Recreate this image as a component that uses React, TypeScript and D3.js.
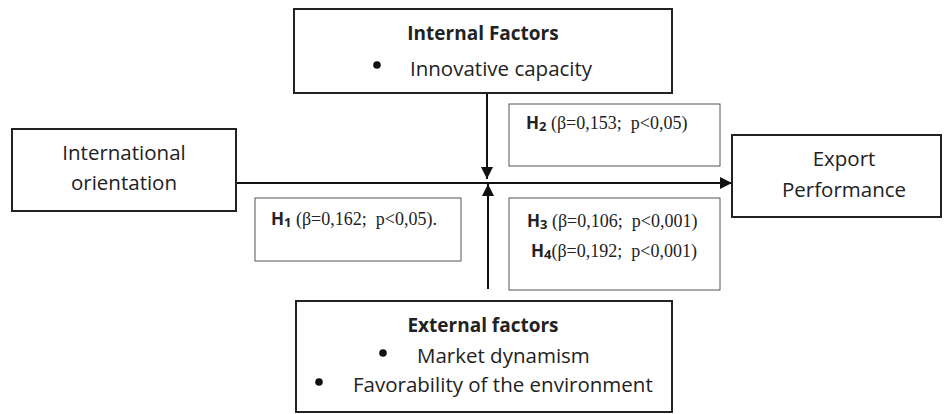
import React, { useEffect, useRef } from 'react';
import { select, line } from 'd3';

// diagram content
const internalTitle = 'Internal Factors';
const internalItems = ['Innovative capacity'];
const externalTitle = 'External factors';
const externalItems = ['Market dynamism', 'Favorability of the environment'];
const sourceLabel = ['International', 'orientation'];
const targetLabel = ['Export', 'Performance'];
const hypIds = ['1', '2', '3', '4'];
const hypBetas = ['0,162', '0,153', '0,106', '0,192'];
const hypPs = ['p<0,05', 'p<0,05', 'p<0,001', 'p<0,001'];
const hypSuffix = ['.', '', '', ''];

const width = 944;
const height = 414;
const sans = "'Open Sans', sans-serif";
const serif = "'Liberation Serif', 'Times New Roman', serif";

function App() {
    const svgRef = useRef(null);

    useEffect(() => {
        const svg = select(svgRef.current);
        svg.selectAll('*').remove();

        svg.append('defs')
            .append('marker')
            .attr('id', 'head')
            .attr('viewBox', '0 0 12 12')
            .attr('refX', 12)
            .attr('refY', 6)
            .attr('markerWidth', 12)
            .attr('markerHeight', 12)
            .attr('markerUnits', 'userSpaceOnUse')
            .attr('orient', 'auto')
            .append('path')
            .attr('d', 'M0,0 L12,6 L0,12 Z')
            .attr('fill', '#111');

        const box = (x, y, w, h, sw = 2, col = '#222') => {
            svg.append('rect')
                .attr('x', x).attr('y', y)
                .attr('width', w).attr('height', h)
                .attr('fill', '#fff')
                .attr('stroke', col)
                .attr('stroke-width', sw);
        };

        const label = (txt, x, y, opts = {}) => {
            svg.append('text')
                .attr('x', x).attr('y', y)
                .attr('text-anchor', opts.anchor || 'middle')
                .attr('font-family', opts.font || sans)
                .attr('font-size', opts.size || 20.5)
                .attr('font-weight', opts.bold ? 'bold' : 'normal')
                .attr('fill', '#222')
                .text(txt);
        };

        const bullet = (x, y) => {
            svg.append('circle').attr('cx', x).attr('cy', y).attr('r', 3.8).attr('fill', '#111');
        };

        const arrow = (pts) => {
            svg.append('path')
                .attr('d', line()(pts))
                .attr('fill', 'none')
                .attr('stroke', '#111')
                .attr('stroke-width', 2)
                .attr('marker-end', 'url(#head)');
        };

        // connectors
        arrow([[236, 183], [732, 183]]);
        arrow([[487, 93], [487, 179]]);
        arrow([[488, 289], [488, 184]]);

        // top box
        box(294, 9, 378, 84);
        label(internalTitle, 483, 40, { bold: true, size: 19 });
        internalItems.forEach((t, i) => {
            bullet(377, 65 + i * 30);
            label(t, 410, 76 + i * 30, { anchor: 'start' });
        });

        // left box
        box(12, 129, 224, 82);
        sourceLabel.forEach((t, i) => label(t, 124, 160 + i * 30));

        // right box
        box(732, 135, 209, 82);
        targetLabel.forEach((t, i) => label(t, 844, 166 + i * 31));

        // bottom box
        box(296, 301, 376, 111);
        label(externalTitle, 483, 332, { bold: true, size: 19 });
        const extX = [417, 353];
        const bulX = [383, 319];
        externalItems.forEach((t, i) => {
            bullet(bulX[i], 353 + i * 29);
            label(t, extX[i], 363 + i * 29, { anchor: 'start' });
        });

        // hypothesis boxes
        box(509, 104, 211, 62, 1, '#555');
        box(255, 198, 206, 63, 1, '#555');
        box(509, 198, 211, 92, 1, '#555');

        const hypPos = [[271, 225], [526, 129], [527, 227], [531, 257]];
        hypIds.forEach((id, i) => {
            const t = svg.append('text')
                .attr('x', hypPos[i][0]).attr('y', hypPos[i][1])
                .attr('fill', '#222');
            t.append('tspan')
                .attr('font-family', sans).attr('font-weight', 'bold').attr('font-size', 17)
                .text('H');
            t.append('tspan')
                .attr('font-family', sans).attr('font-weight', 'bold').attr('font-size', 13)
                .attr('dy', 2)
                .text(id);
            t.append('tspan')
                .attr('font-family', serif).attr('font-size', 18)
                .attr('dy', -2)
                .text((i === 3 ? '' : ' ') + '(β=' + hypBetas[i] + ';\u00a0 ' + hypPs[i] + ')' + hypSuffix[i]);
        });
    }, []);

    return (
        <svg ref={svgRef} width={width} height={height} style={{ display: 'block', position: 'absolute', left: 0, top: 0, background: '#fff' }}></svg>
    );
}

export default App;
